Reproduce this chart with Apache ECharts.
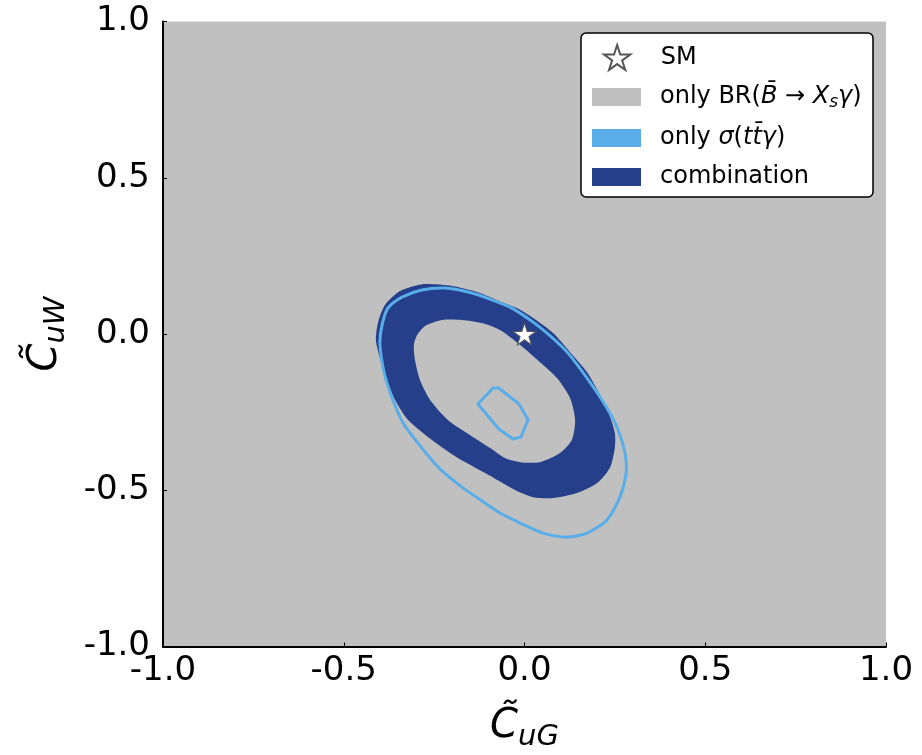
<!DOCTYPE html>
<html>
<head>
<meta charset="utf-8">
<script src="https://cdn.jsdelivr.net/npm/echarts@6/dist/echarts.min.js"></script>
<style>
  html, body { margin: 0; padding: 0; background: #ffffff; }
  #chart { width: 922px; height: 755px; }
</style>
</head>
<body>
<div id="chart"></div>
<script>
// Tick positions and labels (both axes)
const tickValues = [-1.0, -0.5, 0.0, 0.5, 1.0];
const tickLabels = ['-1.0', '-0.5', '0.0', '0.5', '1.0'];

// Scan range allowed by BR(B -> Xs gamma) alone: [min, max] on each axis
const brRangeUG = [-1.0, 1.0];
const brRangeUW = [-1.0, 1.0];

// Standard Model point [C_uG, C_uW]
const smPoint = [0.0, 0.0];

// Combined fit: outer boundary of the allowed band [C_uG, C_uW]
const comboOuter = [
  [-0.275, 0.160], [-0.201, 0.154], [-0.129, 0.134], [-0.062, 0.102],
  [-0.021, 0.083], [0.024, 0.051], [0.079, 0.003], [0.126, -0.058],
  [0.173, -0.122], [0.209, -0.195], [0.237, -0.266], [0.250, -0.317],
  [0.250, -0.362], [0.237, -0.426], [0.201, -0.477], [0.145, -0.509],
  [0.079, -0.525], [0.024, -0.522], [-0.026, -0.499], [-0.109, -0.445],
  [-0.184, -0.397], [-0.256, -0.339], [-0.322, -0.275], [-0.358, -0.211],
  [-0.383, -0.141], [-0.400, -0.077], [-0.411, -0.019], [-0.405, 0.038],
  [-0.386, 0.093], [-0.350, 0.134], [-0.317, 0.150]
];

// Combined fit: inner boundary (excluded hole) [C_uG, C_uW]
const comboInner = [
  [-0.297, -0.003], [-0.275, 0.026], [-0.228, 0.045], [-0.173, 0.045],
  [-0.118, 0.035], [-0.068, 0.013], [-0.012, -0.035], [0.043, -0.090],
  [0.090, -0.141], [0.126, -0.205], [0.140, -0.275], [0.131, -0.339],
  [0.098, -0.381], [0.043, -0.410], [-0.012, -0.410], [-0.054, -0.397],
  [-0.095, -0.365], [-0.151, -0.323], [-0.212, -0.275], [-0.261, -0.211],
  [-0.289, -0.147], [-0.303, -0.083], [-0.306, -0.035]
];

// sigma(ttgamma) alone: outer contour [C_uG, C_uW]
const ttgOuter = [
  [-0.284, 0.141], [-0.220, 0.147], [-0.145, 0.131], [-0.090, 0.109],
  [-0.035, 0.083], [0.024, 0.038], [0.071, -0.006], [0.118, -0.058],
  [0.181, -0.154], [0.228, -0.237], [0.259, -0.307], [0.278, -0.381],
  [0.281, -0.445], [0.264, -0.522], [0.228, -0.595], [0.173, -0.637],
  [0.118, -0.650], [0.051, -0.637], [-0.012, -0.605], [-0.068, -0.573],
  [-0.109, -0.541], [-0.173, -0.490], [-0.239, -0.426], [-0.295, -0.349],
  [-0.336, -0.285], [-0.364, -0.211], [-0.383, -0.147], [-0.394, -0.090],
  [-0.400, -0.026], [-0.394, 0.029], [-0.378, 0.083], [-0.339, 0.118]
];

// sigma(ttgamma) alone: small inner contour [C_uG, C_uW]
const ttgInner = [
  [-0.129, -0.224], [-0.087, -0.173], [-0.071, -0.173], [-0.015, -0.224],
  [0.010, -0.275], [-0.010, -0.330], [-0.032, -0.336], [-0.071, -0.304]
];

const GREY = '#c0c0c0';
const LIGHT_BLUE = '#59aeea';
const DARK_BLUE = '#253f8b';
const STAR = 'path://M50,2 L61.2,36.5 L97.6,36.5 L68.2,57.9 L79.4,92.5 L50,71.1 L20.6,92.5 L31.8,57.9 L2.4,36.5 L38.8,36.5 Z';
const FONT = 'DejaVu Sans';

function toPixels(api, pts) {
  return pts.map(p => api.coord(p));
}

const legendRich = {
  t: { fontSize: 24, fontFamily: FONT, color: '#000', lineHeight: 28 },
  i: { fontSize: 24, fontFamily: FONT, fontStyle: 'italic', color: '#000', lineHeight: 28 },
  s: { fontSize: 17, fontFamily: FONT, fontStyle: 'italic', color: '#000', lineHeight: 14, verticalAlign: 'bottom' }
};
const legendText = {
  'SM': '{t|SM}',
  'BR': '{t|only BR(}{i|B\u0304}{t| \u2192 }{i|X}{s|s}{i|\u03b3}{t|)}',
  'TTG': '{t|only }{i|\u03c3}{t|(}{i|tt\u0304\u03b3}{t|)}',
  'combination': '{t|combination}'
};

const axisNameRich = {
  c: { fontSize: 40, fontFamily: FONT, fontStyle: 'italic', color: '#000', lineHeight: 50 },
  s: { fontSize: 29, fontFamily: FONT, fontStyle: 'italic', color: '#000', lineHeight: 30, verticalAlign: 'bottom' }
};

const chart = echarts.init(document.getElementById('chart'), null, { renderer: 'canvas' });

const commonAxis = {
  type: 'value',
  min: -1,
  max: 1,
  interval: 0.5,
  z: 5,
  splitLine: { show: false },
  axisLine: { show: true, onZero: false, lineStyle: { color: '#000', width: 2 } },
  axisTick: { show: true, inside: true, length: 4, lineStyle: { color: '#000', width: 1 } },
  axisLabel: {
    fontSize: 34, fontFamily: FONT, color: '#000',
    formatter: v => tickLabels[tickValues.indexOf(v)] ?? ''
  }
};

chart.setOption({
  animation: false,
  backgroundColor: '#ffffff',
  grid: { left: 163, right: 36, top: 21.5, bottom: 108.5, show: false, containLabel: false, outerBoundsMode: 'none' },
  xAxis: Object.assign({}, commonAxis, {
    axisLabel: Object.assign({}, commonAxis.axisLabel, { margin: 8 }),
    name: '{c|C\u0303}{s|uG}',
    nameLocation: 'middle',
    nameGap: 55,
    nameTextStyle: { rich: axisNameRich }
  }),
  yAxis: Object.assign({}, commonAxis, {
    axisLabel: Object.assign({}, commonAxis.axisLabel, { margin: 13 }),
    name: '{c|C\u0303}{s|uW}',
    nameLocation: 'middle',
    nameGap: 92,
    nameTextStyle: { rich: axisNameRich }
  }),
  graphic: [{
    type: 'rect',
    z: 20,
    shape: { x: 581, y: 33, width: 292, height: 164, r: 5 },
    style: { fill: '#ffffff', stroke: '#000', lineWidth: 1.5 }
  }],
  legend: [
    {
      data: [{ name: 'SM', icon: STAR }],
      orient: 'vertical',
      left: 603,
      top: 44,
      padding: 0,
      z: 30,
      itemWidth: 49,
      itemHeight: 25,
      selectedMode: false,
      formatter: n => legendText[n],
      textStyle: { fontSize: 24, fontFamily: FONT, color: '#000', rich: legendRich, padding: [0, 0, 0, 14] }
    },
    {
      data: ['BR', 'TTG', 'combination'],
      icon: 'rect',
      orient: 'vertical',
      left: 592,
      top: 85,
      padding: 0,
      z: 30,
      itemWidth: 49,
      itemHeight: 18,
      itemGap: 15,
      selectedMode: false,
      formatter: n => legendText[n],
      textStyle: { fontSize: 24, fontFamily: FONT, color: '#000', rich: legendRich, padding: [0, 0, 0, 14] }
    }
  ],
  series: [
    {
      name: 'BR',
      type: 'custom',
      coordinateSystem: 'cartesian2d',
      silent: true,
      z: 1,
      itemStyle: { color: GREY },
      data: [[brRangeUG[0], brRangeUW[0], brRangeUG[1], brRangeUW[1]]],
      renderItem: (params, api) => {
        const a = api.coord([api.value(0), api.value(1)]);
        const b = api.coord([api.value(2), api.value(3)]);
        return {
          type: 'rect',
          shape: { x: a[0], y: b[1], width: b[0] - a[0], height: a[1] - b[1] },
          style: { fill: GREY }
        };
      }
    },
    {
      name: 'combination',
      type: 'custom',
      coordinateSystem: 'cartesian2d',
      silent: true,
      z: 2,
      itemStyle: { color: DARK_BLUE },
      data: [[0, 0]],
      renderItem: (params, api) => ({
        type: 'group',
        children: [
          { type: 'polygon', shape: { points: toPixels(api, comboOuter), smooth: 0.25 }, style: { fill: DARK_BLUE } },
          { type: 'polygon', shape: { points: toPixels(api, comboInner), smooth: 0.25 }, style: { fill: GREY } }
        ]
      })
    },
    {
      name: 'TTG',
      type: 'custom',
      coordinateSystem: 'cartesian2d',
      silent: true,
      z: 3,
      itemStyle: { color: LIGHT_BLUE },
      data: [[0, 0]],
      renderItem: (params, api) => ({
        type: 'group',
        children: [
          { type: 'polygon', shape: { points: toPixels(api, ttgOuter), smooth: 0.25 }, style: { fill: null, stroke: LIGHT_BLUE, lineWidth: 3 } },
          { type: 'polygon', shape: { points: toPixels(api, ttgInner) }, style: { fill: null, stroke: LIGHT_BLUE, lineWidth: 3, lineJoin: 'round' } }
        ]
      })
    },
    {
      name: 'SM',
      type: 'scatter',
      z: 4,
      symbol: STAR,
      symbolSize: [23, 22],
      itemStyle: { color: '#ffffff', borderColor: '#555555', borderWidth: 1, opacity: 1 },
      data: [smPoint]
    }
  ]
});
</script>
</body>
</html>
